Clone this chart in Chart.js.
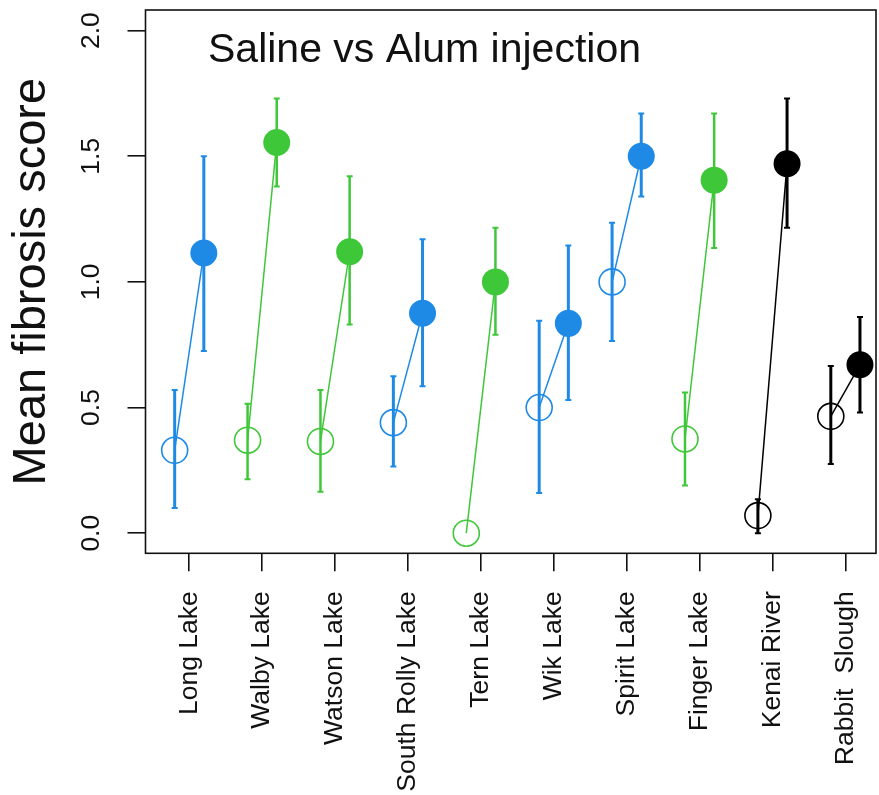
<!DOCTYPE html>
<html>
<head>
<meta charset="utf-8">
<title>Saline vs Alum injection</title>
<script src="https://cdn.jsdelivr.net/npm/chart.js@4.4.0/dist/chart.umd.min.js"></script>
<style>
  html, body { margin: 0; padding: 0; background: #fff; }
  canvas { display: block; }
</style>
</head>
<body>
<canvas id="fibrosis-chart" width="879" height="795"></canvas>
<script>
const sites = ["Long Lake", "Walby Lake", "Watson Lake", "South Rolly Lake", "Tern Lake",
               "Wik Lake", "Spirit Lake", "Finger Lake", "Kenai River", "Rabbit  Slough"];

// saline (open circles) and alum (filled circles) group means with error bar ends
const salineMean = [0.33, 0.37, 0.365, 0.44, 0.0, 0.50, 1.00, 0.375, 0.07, 0.465];
const salineLo   = [0.10, 0.215, 0.165, 0.265, 0.0, 0.16, 0.765, 0.19, 0.0, 0.275];
const salineHi   = [0.57, 0.515, 0.57, 0.625, 0.0, 0.845, 1.235, 0.56, 0.135, 0.665];

const alumMean = [1.115, 1.555, 1.12, 0.875, 1.0, 0.835, 1.50, 1.405, 1.47, 0.67];
const alumLo   = [0.725, 1.38, 0.83, 0.585, 0.79, 0.53, 1.34, 1.135, 1.215, 0.48];
const alumHi   = [1.50, 1.73, 1.42, 1.17, 1.215, 1.145, 1.67, 1.67, 1.73, 0.86];

const yTicks = [0, 0.5, 1.0, 1.5, 2.0];

const BLUE = "#1e8ae6";
const GREEN = "#3fc73a";
const BLACK = "#000000";
const siteColors = [BLUE, GREEN, GREEN, BLUE, GREEN, BLUE, BLUE, GREEN, BLACK, BLACK];

const offset = 0.2;   // saline left of the site tick, alum right of it
const FONT = "'Liberation Sans', Arial, Helvetica, sans-serif";

const datasets = sites.map((site, i) => ({
  label: site,
  data: [
    { x: i + 1 - offset, y: salineMean[i] },
    { x: i + 1 + offset, y: alumMean[i] }
  ],
  showLine: true,
  borderColor: siteColors[i],
  borderWidth: 1.5,
  pointRadius: [13, 13.5],
  pointBorderWidth: [1.6, 0],
  pointBorderColor: siteColors[i],
  pointBackgroundColor: ["rgba(0,0,0,0)", siteColors[i]]
}));

// vertical error bars with small caps, drawn under the points
const errorBars = {
  id: "errorBars",
  beforeDatasetsDraw(chart) {
    const { ctx, scales: { x, y } } = chart;
    const bar = (px, lo, hi, color, width) => {
      const yLo = y.getPixelForValue(lo);
      const yHi = y.getPixelForValue(hi);
      if (Math.abs(yLo - yHi) < 0.5) return;
      ctx.strokeStyle = color;
      ctx.lineWidth = width;
      ctx.beginPath();
      ctx.moveTo(px, yLo);
      ctx.lineTo(px, yHi);
      ctx.stroke();
      ctx.lineWidth = 2;
      ctx.beginPath();
      ctx.moveTo(px - 3, yLo); ctx.lineTo(px + 3, yLo);
      ctx.moveTo(px - 3, yHi); ctx.lineTo(px + 3, yHi);
      ctx.stroke();
    };
    ctx.save();
    sites.forEach((s, i) => {
      const w = siteColors[i] === GREEN ? 2.5 : 3;
      bar(x.getPixelForValue(i + 1 - offset), salineLo[i], salineHi[i], siteColors[i], w);
      bar(x.getPixelForValue(i + 1 + offset), alumLo[i], alumHi[i], siteColors[i], w);
    });
    ctx.restore();
  }
};

// plot frame and the title inside it
const frame = {
  id: "frame",
  afterDraw(chart) {
    const { ctx, chartArea: a } = chart;
    ctx.save();
    ctx.strokeStyle = "#111";
    ctx.lineWidth = 1.6;
    ctx.strokeRect(a.left, a.top, a.right - a.left, a.bottom - a.top);
    ctx.fillStyle = "#111";
    ctx.font = "41px " + FONT;
    ctx.textAlign = "left";
    ctx.textBaseline = "alphabetic";
    ctx.fillText("Saline vs Alum injection", 208, 62);
    ctx.restore();
  }
};

// keep the plot box fixed: no extra room for the rotated end labels
const noPad = scale => {
  scale.paddingTop = 0;
  scale.paddingBottom = 0;
  scale.paddingLeft = 0;
  scale.paddingRight = 0;
};

new Chart(document.getElementById("fibrosis-chart"), {
  type: "scatter",
  data: { datasets },
  options: {
    responsive: false,
    animation: false,
    layout: { autoPadding: false, padding: { top: 10, right: 3, left: 0, bottom: 0 } },
    plugins: {
      legend: { display: false },
      tooltip: { enabled: false }
    },
    scales: {
      x: {
        type: "linear",
        min: 0.4,
        max: 10.42,
        border: { display: false },
        grid: { drawOnChartArea: false, drawTicks: true, tickLength: 18, color: "#111", lineWidth: 1.6 },
        afterBuildTicks: scale => { scale.ticks = sites.map((s, i) => ({ value: i + 1 })); },
        afterFit: scale => { scale.height = 795 - 553.3; noPad(scale); },
        ticks: {
          autoSkip: false,
          minRotation: 90,
          maxRotation: 90,
          padding: 20,
          color: "#111",
          font: { family: FONT, size: 26.5 },
          callback: v => sites[Math.round(v) - 1]
        }
      },
      y: {
        type: "linear",
        min: -0.08,
        max: 2.082,
        border: { display: false },
        grid: { drawOnChartArea: false, drawTicks: true, tickLength: 18, color: "#111", lineWidth: 1.6 },
        afterBuildTicks: scale => { scale.ticks = yTicks.map(v => ({ value: v })); },
        afterFit: scale => { scale.width = 145.5; noPad(scale); },
        ticks: {
          minRotation: 90,
          crossAlign: "center",
          padding: 17,
          color: "#111",
          font: { family: FONT, size: 26.5 },
          callback: v => v.toFixed(1)
        },
        title: {
          display: true,
          text: "Mean fibrosis score",
          color: "#111",
          font: { family: FONT, size: 47, lineHeight: 1 },
          padding: { top: 9, bottom: 0 }
        }
      }
    }
  },
  plugins: [errorBars, frame]
});
</script>
</body>
</html>
